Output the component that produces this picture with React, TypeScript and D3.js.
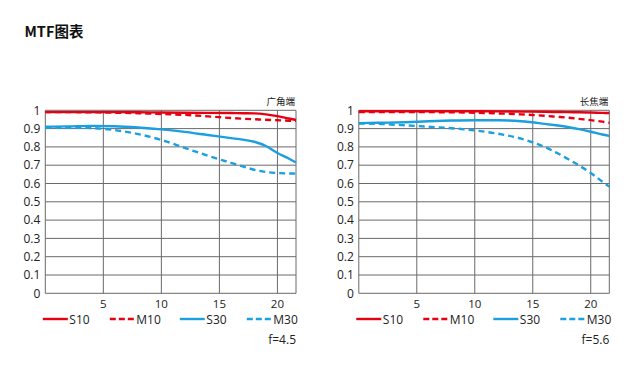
import React from "react";
import * as d3 from "d3";

const xTicks = [5, 10, 15, 20];
const yTicks = [0, 0.1, 0.2, 0.3, 0.4, 0.5, 0.6, 0.7, 0.8, 0.9, 1];
const yTickLabels = ["0", "0.1", "0.2", "0.3", "0.4", "0.5", "0.6", "0.7", "0.8", "0.9", "1"];
const seriesNames = ["S10", "M10", "S30", "M30"];
const seriesColors = ["#e60012", "#e60012", "#1a9fe0", "#1a9fe0"];
const seriesDashed = [false, true, false, true];

// wide end (f=4.5)
const wideX = [0, 2, 4, 6, 8, 10, 12, 14, 16, 17, 18, 19, 20, 21, 21.6];
const wideS10 = [0.99, 0.99, 0.99, 0.99, 0.989, 0.988, 0.987, 0.986, 0.985, 0.984, 0.983, 0.978, 0.968, 0.955, 0.947];
const wideM10 = [0.99, 0.99, 0.989, 0.987, 0.984, 0.98, 0.975, 0.967, 0.958, 0.954, 0.951, 0.948, 0.946, 0.943, 0.942];
const wideS30 = [0.91, 0.912, 0.915, 0.913, 0.906, 0.896, 0.882, 0.865, 0.848, 0.84, 0.828, 0.805, 0.767, 0.735, 0.715];
const wideM30 = [0.905, 0.905, 0.903, 0.892, 0.87, 0.838, 0.795, 0.752, 0.713, 0.694, 0.675, 0.663, 0.657, 0.655, 0.654];

// tele end (f=5.6)
const teleX = [0, 2, 4, 6, 8, 10, 12, 14, 16, 17, 18, 19, 20, 21, 21.6];
const teleS10 = [0.995, 0.995, 0.995, 0.995, 0.995, 0.995, 0.994, 0.993, 0.992, 0.991, 0.99, 0.989, 0.988, 0.986, 0.985];
const teleM10 = [0.99, 0.99, 0.99, 0.99, 0.989, 0.987, 0.983, 0.978, 0.97, 0.965, 0.96, 0.953, 0.946, 0.938, 0.932];
const teleS30 = [0.93, 0.932, 0.935, 0.94, 0.944, 0.946, 0.946, 0.94, 0.926, 0.918, 0.909, 0.897, 0.883, 0.868, 0.86];
const teleM30 = [0.928, 0.925, 0.918, 0.91, 0.902, 0.89, 0.872, 0.845, 0.8, 0.77, 0.735, 0.698, 0.658, 0.61, 0.583];

const panels = [
  { x: wideX, series: [wideS10, wideM10, wideS30, wideM30], label: "广角端", fnum: "f=4.5", left: 45.3, right: 296 },
  { x: teleX, series: [teleS10, teleM10, teleS30, teleM30], label: "长焦端", fnum: "f=5.6", left: 358.8, right: 609.3 },
];

const FONT = "'Open Sans', 'Noto Sans', 'Noto Sans CJK SC', sans-serif";
const CJK = "'Noto Sans CJK SC', 'Noto Sans', sans-serif";

function Panel({ p }: { p: typeof panels[0] }) {
  const x = d3.scaleLinear().domain([0, 21.6]).range([p.left, p.right]);
  const y = d3.scaleLinear().domain([0, 1]).range([293.3, 110.3]);
  const line = d3
    .line<number>()
    .x((_, i) => x(p.x[i]))
    .y((d) => y(d))
    .curve(d3.curveMonotoneX);
  const legendOffsets = [0, 67, 137, 204];
  return (
    <g>
      {yTicks.map((t) => (
        <line key={"h" + t} x1={x(0)} x2={x(21.6)} y1={y(t)} y2={y(t)} stroke="#6a6a6a" strokeWidth={1} />
      ))}
      {xTicks.map((t) => (
        <line key={"v" + t} x1={x(t)} x2={x(t)} y1={y(0)} y2={y(1)} stroke="#6a6a6a" strokeWidth={1} />
      ))}
      <line x1={x(0)} x2={x(0)} y1={y(0)} y2={y(1)} stroke="#6a6a6a" strokeWidth={1} />
      <line x1={x(21.6)} x2={x(21.6)} y1={y(0)} y2={y(1)} stroke="#6a6a6a" strokeWidth={1} />
      {yTicks.map((t, i) => (
        <text key={"yl" + t} x={x(0) - 5} y={y(t) + 4.2} textAnchor="end" fontSize={12} fill="#222" fontFamily={FONT}>
          {yTickLabels[i]}
        </text>
      ))}
      {xTicks.map((t) => (
        <text key={"xl" + t} x={x(t)} y={307.5} textAnchor="middle" fontSize={11.5} fill="#222" fontFamily={FONT}>
          {t}
        </text>
      ))}
      {p.series.map((s, i) => (
        <path
          key={"s" + i}
          d={line(s) || ""}
          fill="none"
          stroke={seriesColors[i]}
          strokeWidth={2.4}
          strokeDasharray={seriesDashed[i] ? "6,4" : undefined}
        />
      ))}
      <text x={p.right - 1} y={105} textAnchor="end" fontSize={9.5} fill="#222" fontFamily={CJK}>
        {p.label}
      </text>
      {seriesNames.map((n, i) => {
        const lx = p.left - 2.5 + legendOffsets[i];
        return (
          <g key={"lg" + n}>
            <line
              x1={lx}
              x2={lx + 25}
              y1={319}
              y2={319}
              stroke={seriesColors[i]}
              strokeWidth={2.4}
              strokeDasharray={seriesDashed[i] ? "6,3" : undefined}
            />
            <text x={lx + 26.5} y={323.5} fontSize={12} fill="#222" fontFamily={FONT}>
              {n}
            </text>
          </g>
        );
      })}
      <text x={p.right} y={344.3} textAnchor="end" fontSize={12} fill="#222" fontFamily={FONT}>
        {p.fnum}
      </text>
    </g>
  );
}

export default function App() {
  return (
    <div style={{ position: "absolute", left: 0, top: 0 }}>
      <svg width={641} height={376} style={{ display: "block", background: "#fff" }}>
        <text x={24.5} y={37} fontSize={14.5} fontWeight="bold" fill="#111" fontFamily={CJK}>
          MTF图表
        </text>
        {panels.map((p, i) => (
          <Panel key={i} p={p} />
        ))}
      </svg>
    </div>
  );
}
